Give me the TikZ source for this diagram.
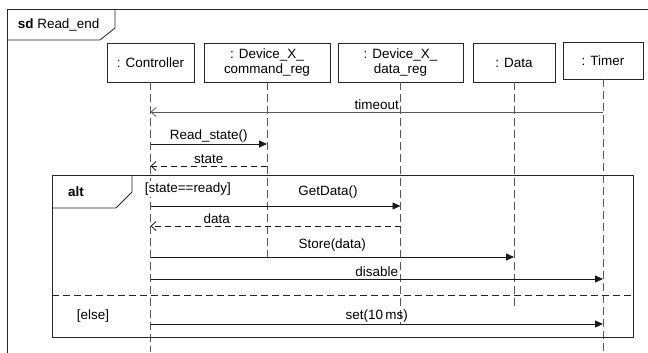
\documentclass[tikz,border=0pt]{standalone}
\usepackage{fontspec}
\setmainfont{Liberation Sans}
\usetikzlibrary{arrows.meta}

\tikzset{
  obj/.style={draw=black!85, fill=white, align=center, inner sep=1bp,
    font=\fontsize{13.5}{15}\selectfont},
  lifeline/.style={draw=black!65, line width=0.9bp, dash pattern=on 8bp off 4bp},
  call/.style={draw=black!90, -{Triangle[length=8bp,width=7bp]}},
  reply/.style={draw=black!90, dash pattern=on 6bp off 4bp,
    -{Straight Barb[length=5bp,width=9bp]}},
  async/.style={draw=black!65, -{Straight Barb[length=5bp,width=9bp]}},
  msg/.style={font=\fontsize{13.5}{15}\selectfont, inner sep=1.5bp},
}

\begin{document}
\begin{tikzpicture}[x=1bp,y=-1bp,line width=0.8bp]
            \useasboundingbox (0,0) rectangle (648,352);
            \clip (0,0) rectangle (648,352);

            % Draw frame
            \draw[black!85] (7,9) rectangle (660,364);
            \draw[black!85] (7,40) -- (100,40) -- (115,28) -- (115,9);
            \node[anchor=west, msg] (title) at (16,25) {\textbf{sd} Read\_end};

            % Draw lifelines
            \node[obj, minimum width=87bp, minimum height=39bp] (ctrl) at (150.5,62.5) {: Controller};
            \node[obj, minimum width=126bp, minimum height=39bp] (cmd) at (267,62.5) {: Device\_X\_\\command\_reg};
            \node[obj, minimum width=125bp, minimum height=39bp] (dreg) at (400.5,62.5) {: Device\_X\_\\data\_reg};
            \node[obj, minimum width=82bp, minimum height=39bp] (data) at (514,62.5) {: Data};
            \node[obj, minimum width=80bp, minimum height=37bp] (timer) at (603,60.5) {: Timer};

            \draw[lifeline] (ctrl.south) -- (ctrl |- 0,352);
            \draw[lifeline] (cmd.south) -- (cmd |- 0,262);
            \draw[lifeline] (dreg.south) -- (dreg |- 0,324);
            \draw[lifeline] (data.south) -- (data |- 0,308);
            \draw[lifeline] (timer.south) -- (timer |- 0,352);

            % Draw alt fragment
            \draw[black!85] (52,175) rectangle (633,337);
            \draw[black!85] (52,208) -- (116,208) -- (132,192) -- (132,175);
            \node[msg] (alt) at (76,192) {\textbf{alt}};
            \node[msg, anchor=west, fill=white] (guard1) at (143,189) {[state==ready]};
            \draw[black!85, dash pattern=on 7bp off 4bp] (52,295) -- (633,295);
            \node[msg] (guard2) at (93,316) {[else]};

            % Add messages
            \draw[async] (timer |- 0,112) -- (ctrl |- 0,112) node[msg, midway, above] {timeout};
            \draw[call] (ctrl |- 0,144) -- (cmd |- 0,144) node[msg, midway, above] {Read\_state()};
            \draw[reply] (cmd |- 0,166) -- (ctrl |- 0,166) node[msg, midway, above] {state};
            \draw[call] (ctrl |- 0,206) -- (dreg |- 0,206) node[msg, pos=0.71, above=6bp] {GetData()};
            \draw[reply] (dreg |- 0,226) -- (ctrl |- 0,226) node[msg, pos=0.735, above] {data};
            \draw[call] (ctrl |- 0,257) -- (data |- 0,257) node[msg, midway, above=4bp] {Store(data)};
            \draw[call] (ctrl |- 0,279) -- (timer |- 0,279) node[msg, midway, above] {disable};
            \draw[call] (ctrl |- 0,324) -- (timer |- 0,324) node[msg, midway, above] {set(10\,ms)};
        \end{tikzpicture}
\end{document}
